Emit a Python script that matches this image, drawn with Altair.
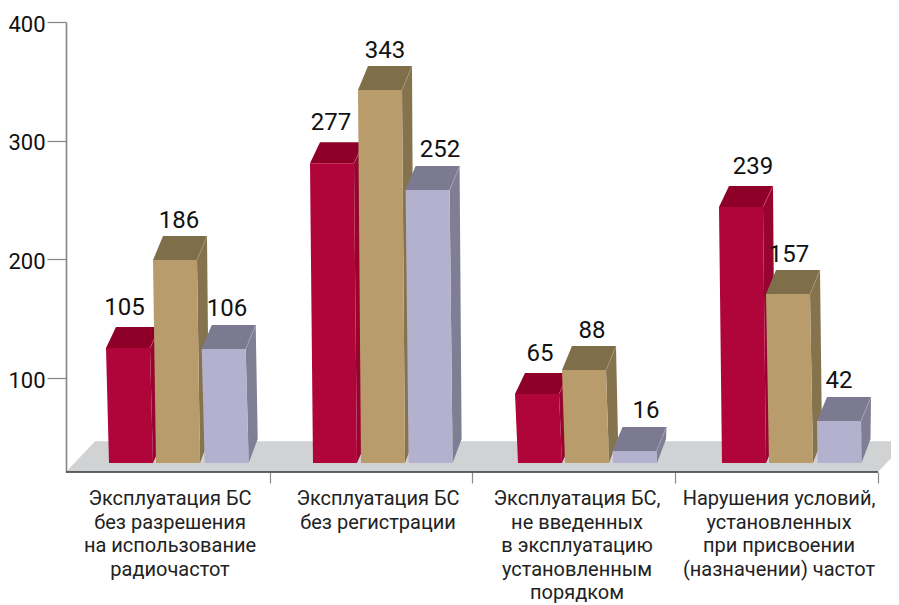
import altair as alt
import pandas as pd

# ---- values ----
GROUPS = [
    "Эксплуатация БС\nбез разрешения\nна использование\nрадиочастот",
    "Эксплуатация БС\nбез регистрации",
    "Эксплуатация БС,\nне введенных\nв эксплуатацию\nустановленным\nпорядком",
    "Нарушения условий,\nустановленных\nпри присвоении\n(назначении) частот",
]
RED_LABELS = [105, 277, 65, 239]
TAN_LABELS = [186, 343, 88, 157]
LAV_LABELS = [106, 252, 16, 42]
# height of each front face read against the left axis
RED_TOPS = [125.4, 281.0, 86.7, 244.2]
TAN_TOPS = [199.5, 342.7, 106.9, 170.9]
LAV_TOPS = [124.6, 258.5, 38.7, 64.0]

# ---- layout (x units are a layout scale, y units are the axis scale) ----
RED_X = [40, 244, 449, 653]
TAN_X = [87, 292, 496, 700]
LAV_X = [135.7, 339.6, 546.5, 751]
RED_LABEL_X = [58.5, 265, 474, 687]
TAN_LABEL_X = [113, 319, 526, 723]
LAV_LABEL_X = [161, 374, 580, 773]
GROUP_X = [104, 312, 511, 713]
TICK_X = [204, 406, 609, 812]
BAR_W = 44
LEAN = 3
DX = 10
Y_PER_PX = 1 / 1.1873
BASE = 28.6
Y_MIN, Y_MAX = 21, 400
X_MAX = 825
PLOT_H = 450
FLOOR_BACK = 47
FLOOR_SHIFT = 29
LABEL_GAP = {"red": 12, "tan": 8, "lav": 9}

STYLE = {
    "red": dict(front="#B0053A", top="#8F0028", side="#96042F", edge="#C9476C", depth=21),
    "tan": dict(front="#B99C6B", top="#7F6E4A", side="#85734E", edge="#A8977A", depth=24),
    "lav": dict(front="#B3B1CE", top="#7B7A90", side="#7F7E94", edge="#A5A5B8", depth=24),
}


def quad_rows(pts, fill, pid):
    """Turn a convex polygon into area rows (x, upper y, lower y)."""
    xs = sorted({round(p[0], 3) for p in pts})
    rows = []
    n = len(pts)
    for x in xs:
        ys = []
        for i in range(n):
            (x0, y0), (x1, y1) = pts[i], pts[(i + 1) % n]
            lo, hi = min(x0, x1), max(x0, x1)
            if lo - 1e-6 <= x <= hi + 1e-6:
                if abs(x1 - x0) < 1e-6:
                    ys += [y0, y1]
                else:
                    ys.append(y0 + (y1 - y0) * (x - x0) / (x1 - x0))
        rows.append(dict(x=x, y=max(ys), y2=min(ys), fill=fill, pid=pid))
    return rows


polys = []
pid = 0


def add(pts, fill):
    global pid
    polys.extend(quad_rows(pts, fill, pid))
    pid += 1


add([(0, Y_MIN), (FLOOR_SHIFT, FLOOR_BACK), (812 + FLOOR_SHIFT, FLOOR_BACK), (812, Y_MIN)], "#D1D2D4")

labels = []
for g in range(4):
    for name, xs, tops, labs, lab_x in (
        ("red", RED_X, RED_TOPS, RED_LABELS, RED_LABEL_X),
        ("tan", TAN_X, TAN_TOPS, TAN_LABELS, TAN_LABEL_X),
        ("lav", LAV_X, LAV_TOPS, LAV_LABELS, LAV_LABEL_X),
    ):
        s = STYLE[name]
        x0, top = xs[g], tops[g]
        d = s["depth"] * Y_PER_PX
        lean = LEAN if top - BASE > 50 else 0.5
        x1 = x0 + BAR_W
        add([(x1, top), (x1 + DX, top + d), (x1 + lean + DX - 1, BASE + d), (x1 + lean, BASE)], s["side"])
        add([(x0, top), (x1, top), (x1 + DX, top + d), (x0 + DX, top + d)], s["top"])
        add([(x1 - 0.4, top), (x1 + DX - 0.4, top + d), (x1 + DX + 0.4, top + d), (x1 + 0.4, top)], s["edge"])
        add([(x0, top), (x1, top), (x1 + lean, BASE), (x0 + lean, BASE)], s["front"])
        labels.append(dict(x=lab_x[g], y=top + d + LABEL_GAP[name] * Y_PER_PX, text=str(labs[g])))

poly_df = pd.DataFrame(polys)
label_df = pd.DataFrame(labels)
group_df = pd.DataFrame({"x": GROUP_X, "text": GROUPS})

FONT = "Roboto"
x_scale = alt.Scale(domain=[0, X_MAX], range=[0, X_MAX], nice=False, zero=False)
y_scale = alt.Scale(domain=[Y_MIN, Y_MAX], nice=False, zero=False)

x_axis = alt.Axis(
    values=TICK_X, labels=False, title=None, grid=False, domain=False,
    tickColor="#8A8A8A", tickSize=11, tickWidth=1.2,
)
y_axis = alt.Axis(
    values=[100, 200, 300, 400], title=None, grid=False, domainColor="#858585", domainWidth=1.6,
    tickColor="#858585", tickSize=19, tickWidth=1.2, labelFont=FONT, labelFontSize=22,
    labelColor="#111111", labelPadding=2, labelOffset=2,
)

areas = alt.Chart(poly_df).mark_area(clip=True, opacity=1).encode(
    x=alt.X("x:Q", scale=x_scale, axis=x_axis),
    y=alt.Y("y:Q", scale=y_scale, axis=y_axis),
    y2="y2:Q",
    detail="pid:N",
    color=alt.Color("fill:N", scale=None),
)

floor_line = alt.Chart(pd.DataFrame({"x": [0], "x2": [TICK_X[-1]], "y": [Y_MIN]})).mark_rule(
    color="#333333", strokeWidth=1.4
).encode(
    x=alt.X("x:Q", scale=x_scale), x2="x2:Q", y=alt.Y("y:Q", scale=y_scale)
)

value_text = alt.Chart(label_df).mark_text(
    font=FONT, fontSize=24, color="#111111", baseline="alphabetic", align="center"
).encode(
    x=alt.X("x:Q", scale=x_scale), y=alt.Y("y:Q", scale=y_scale), text="text:N"
)

group_text = alt.Chart(group_df).mark_text(
    font=FONT, fontSize=20, color="#222222", baseline="top", align="center",
    lineBreak="\n", lineHeight=23.6,
).encode(
    x=alt.X("x:Q", scale=x_scale), y=alt.value(PLOT_H + 17), text="text:N"
)

chart = (
    alt.layer(areas, floor_line, value_text, group_text)
    .properties(
        width=X_MAX, height=PLOT_H,
        padding={"left": 58, "top": 14, "right": 0, "bottom": 135},
        autosize=alt.AutoSizeParams(type="none"),
        background="white",
    )
    .configure_view(stroke=None)
)

chart.save("out.html", embed_options={"renderer": "svg", "actions": False})
